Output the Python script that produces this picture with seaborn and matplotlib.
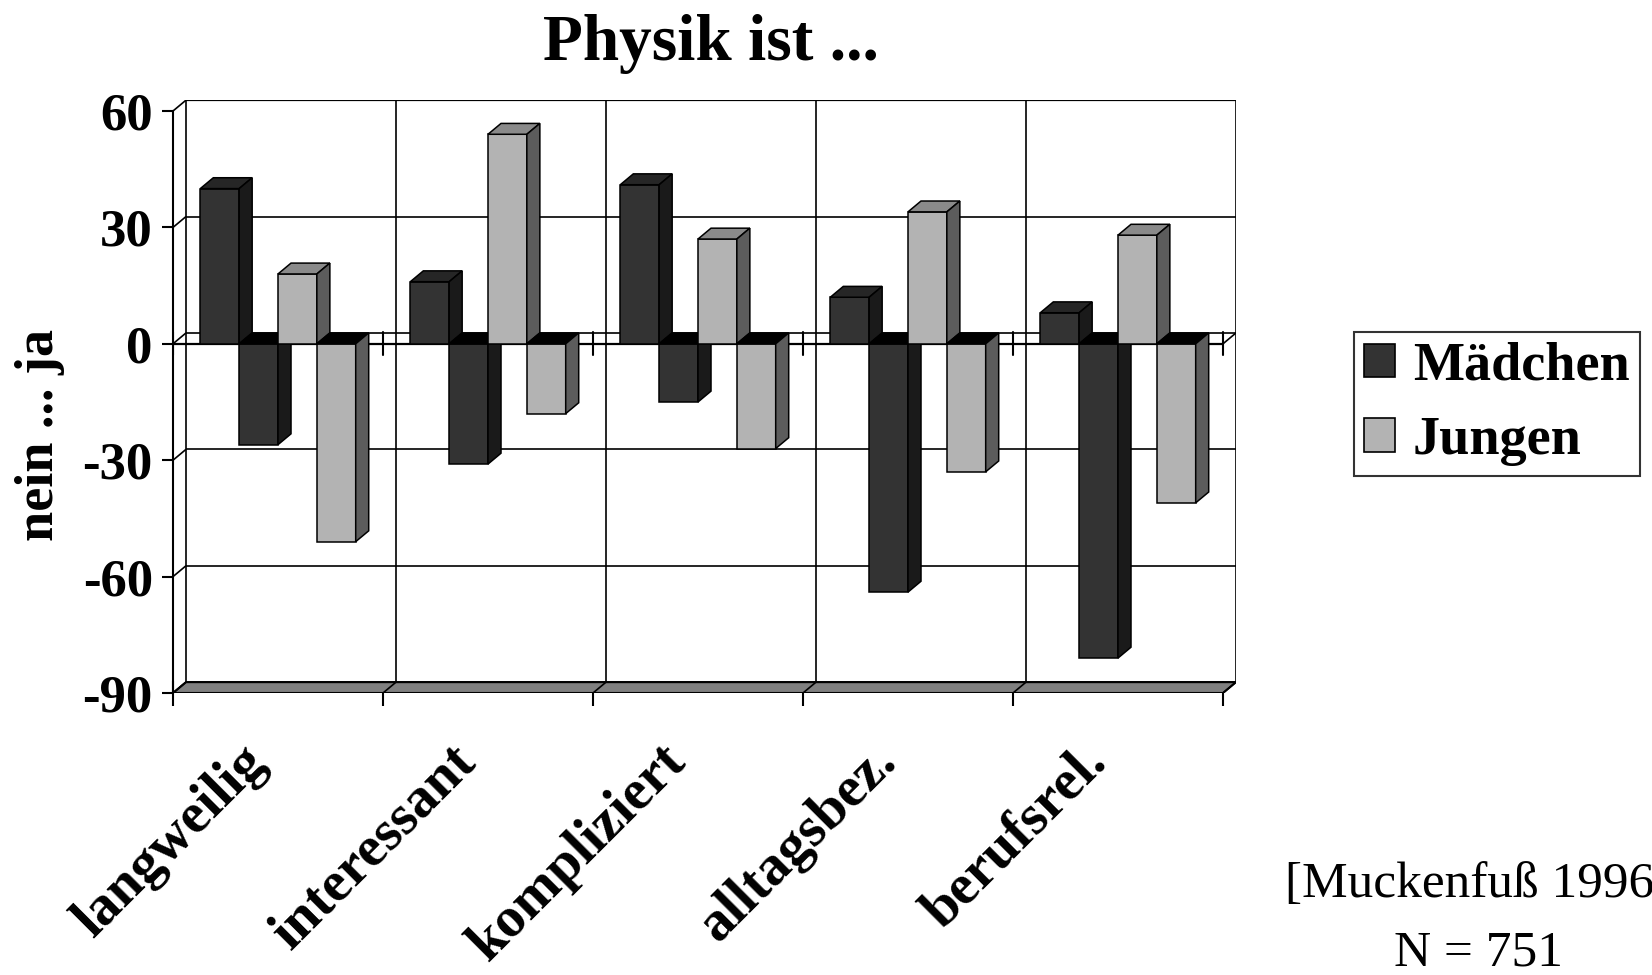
import matplotlib
matplotlib.use('Agg')
import matplotlib.pyplot as plt
import matplotlib.transforms as mtransforms
import seaborn as sns
import pandas as pd
import numpy as np
from matplotlib.patches import Polygon, Patch

categories = ['langweilig', 'interessant', 'kompliziert', 'alltagsbez.', 'berufsrel.']
maedchen_ja = [40, 16, 41, 12, 8]
maedchen_nein = [-26, -31, -15, -64, -81]
jungen_ja = [18, 54, 27, 34, 28]
jungen_nein = [-51, -18, -27, -33, -41]
y_ticks = [60, 30, 0, -30, -60, -90]

series = ['Mädchen ja', 'Mädchen nein', 'Jungen ja', 'Jungen nein']
df = pd.DataFrame({
    'Kategorie': categories * 4,
    'Reihe': np.repeat(series, len(categories)),
    'Wert': maedchen_ja + maedchen_nein + jungen_ja + jungen_nein,
})

# Vorderseite, Seite, Deckel
dunkel = ('#333333', '#1a1a1a', '#262626')
hell = ('#b3b3b3', '#5c5c5c', '#8a8a8a')
farben = [dunkel, dunkel, hell, hell]

sns.set_style('white')
plt.rcParams['font.family'] = ['Liberation Serif', 'DejaVu Serif']
plt.rcParams['font.weight'] = 'bold'
plt.rcParams['text.color'] = 'black'
plt.rcParams['xtick.color'] = 'black'
plt.rcParams['ytick.color'] = 'black'

W, H = 1652, 975
fig = plt.figure(figsize=(W / 100, H / 100), dpi=100)

# Tiefe der 3D-Optik
dx, dy = 0.062, 2.8
ymin, ymax = -90, 60 + dy
px_left, px_right, px_bottom = 173, 1236, 693
px_top = px_bottom - (ymax - ymin) * 3.88
ax = fig.add_axes([px_left / W, 1 - px_bottom / H,
                   (px_right - px_left) / W, (px_bottom - px_top) / H])

sns.barplot(data=df, x='Kategorie', y='Wert', hue='Reihe', hue_order=series,
            palette=[f[0] for f in farben], saturation=1, width=0.74,
            errorbar=None, edgecolor='black', linewidth=1.1, legend=False, ax=ax)

# Seiten und Deckel der Säulen
for cont, f in zip(ax.containers, farben):
    for bar in cont:
        x0 = bar.get_x()
        x1 = x0 + bar.get_width()
        v = bar.get_height()
        top, bot = max(v, 0), min(v, 0)
        z = 10 + x0
        bar.set_zorder(z)
        deckel = f[2] if v > 0 else 'black'
        ax.add_patch(Polygon([(x0, top), (x0 + dx, top + dy), (x1 + dx, top + dy), (x1, top)],
                             closed=True, fc=deckel, ec='black', lw=1.1, zorder=z))
        ax.add_patch(Polygon([(x1, bot), (x1 + dx, bot + dy), (x1 + dx, top + dy), (x1, top)],
                             closed=True, fc=f[1], ec='black', lw=1.1, zorder=z))

lk = dict(color='black', lw=1.2, zorder=1, solid_capstyle='butt')
xa, xb = -0.5, len(categories) - 0.5
grenzen = np.arange(xa, xb + 0.01, 1)

# Rückwand und linke Wand
for v in y_ticks:
    ax.plot([xa + dx, xb + dx], [v + dy, v + dy], **lk)
    ax.plot([xa, xa + dx], [v, v + dy], **lk)
for g in grenzen:
    ax.plot([g + dx, g + dx], [ymin + dy, 60 + dy], **lk)
ax.plot([xa + dx, xb + dx], [60 + dy, 60 + dy], color='black', lw=1.6, zorder=1)

# Nullebene
ax.plot([xa, xb], [0, 0], color='black', lw=1.6, zorder=2)
ax.plot([xb, xb + dx], [0, dy], **lk)
for g in grenzen:
    ax.plot([g, g], [-3, 3], color='black', lw=1.5, zorder=2)

# Boden
ax.add_patch(Polygon([(xa, ymin), (xb, ymin), (xb + dx, ymin + dy), (xa + dx, ymin + dy)],
                     closed=True, fc='#808080', ec='black', lw=1.5, zorder=2))
for g in grenzen:
    ax.plot([g, g + dx], [ymin, ymin + dy], color='black', lw=1.2, zorder=2)

ax.set_xlim(xa, xb + dx)
ax.set_ylim(ymin, ymax)
ax.set_xlabel('')
ax.set_ylabel('')

ax.spines[['top', 'right', 'bottom']].set_visible(False)
ax.spines['left'].set_bounds(-90, 60)
ax.spines['left'].set_linewidth(1.5)
ax.spines['left'].set_color('black')

ax.set_yticks(y_ticks)
ax.set_yticklabels([str(v) for v in y_ticks], fontsize=38)
ax.tick_params(axis='y', length=8, width=1.5, pad=6.5, color='black', left=True)

ax.set_xticks(range(len(categories)))
ax.set_xticklabels(categories, rotation=45, ha='right', va='center',
                   rotation_mode='anchor', fontsize=41)
ax.set_xticks(grenzen, minor=True)
ax.tick_params(axis='x', which='major', length=0, pad=45, bottom=True)
ax.tick_params(axis='x', which='minor', length=18, width=1.5, direction='inout',
               color='black', bottom=True)
verschub = mtransforms.ScaledTranslation(-0.2, 0.02, fig.dpi_scale_trans)
for lbl in ax.get_xticklabels():
    lbl.set_transform(lbl.get_transform() + verschub)

fig.text(40 / W, 1 - 435 / H, 'nein ... ja', rotation=90, ha='center', va='center', fontsize=39)
fig.text(711 / W, 1 - 60 / H, 'Physik ist ...', ha='center', va='baseline', fontsize=47)

handles = [Patch(fc=dunkel[0], ec='black', lw=1.2, label='Mädchen'),
           Patch(fc=hell[0], ec='black', lw=1.2, label='Jungen')]
leg = fig.legend(handles=handles, loc='upper left', bbox_to_anchor=(1354 / W, 1 - 332 / H),
                 fontsize=39, frameon=True, fancybox=False, edgecolor='black',
                 borderaxespad=0, handlelength=0.58, handleheight=0.58,
                 handletextpad=0.33, borderpad=0.18, labelspacing=0.45)
leg.get_frame().set_linewidth(1.5)

fig.text(1478 / W, 1 - 897 / H, '[Muckenfuß 1996]', ha='center', va='baseline',
         fontsize=37, fontweight='normal')
fig.text(1478 / W, 1 - 966 / H, 'N = 751', ha='center', va='baseline',
         fontsize=37, fontweight='normal')

fig.savefig('out.png', dpi=100)
